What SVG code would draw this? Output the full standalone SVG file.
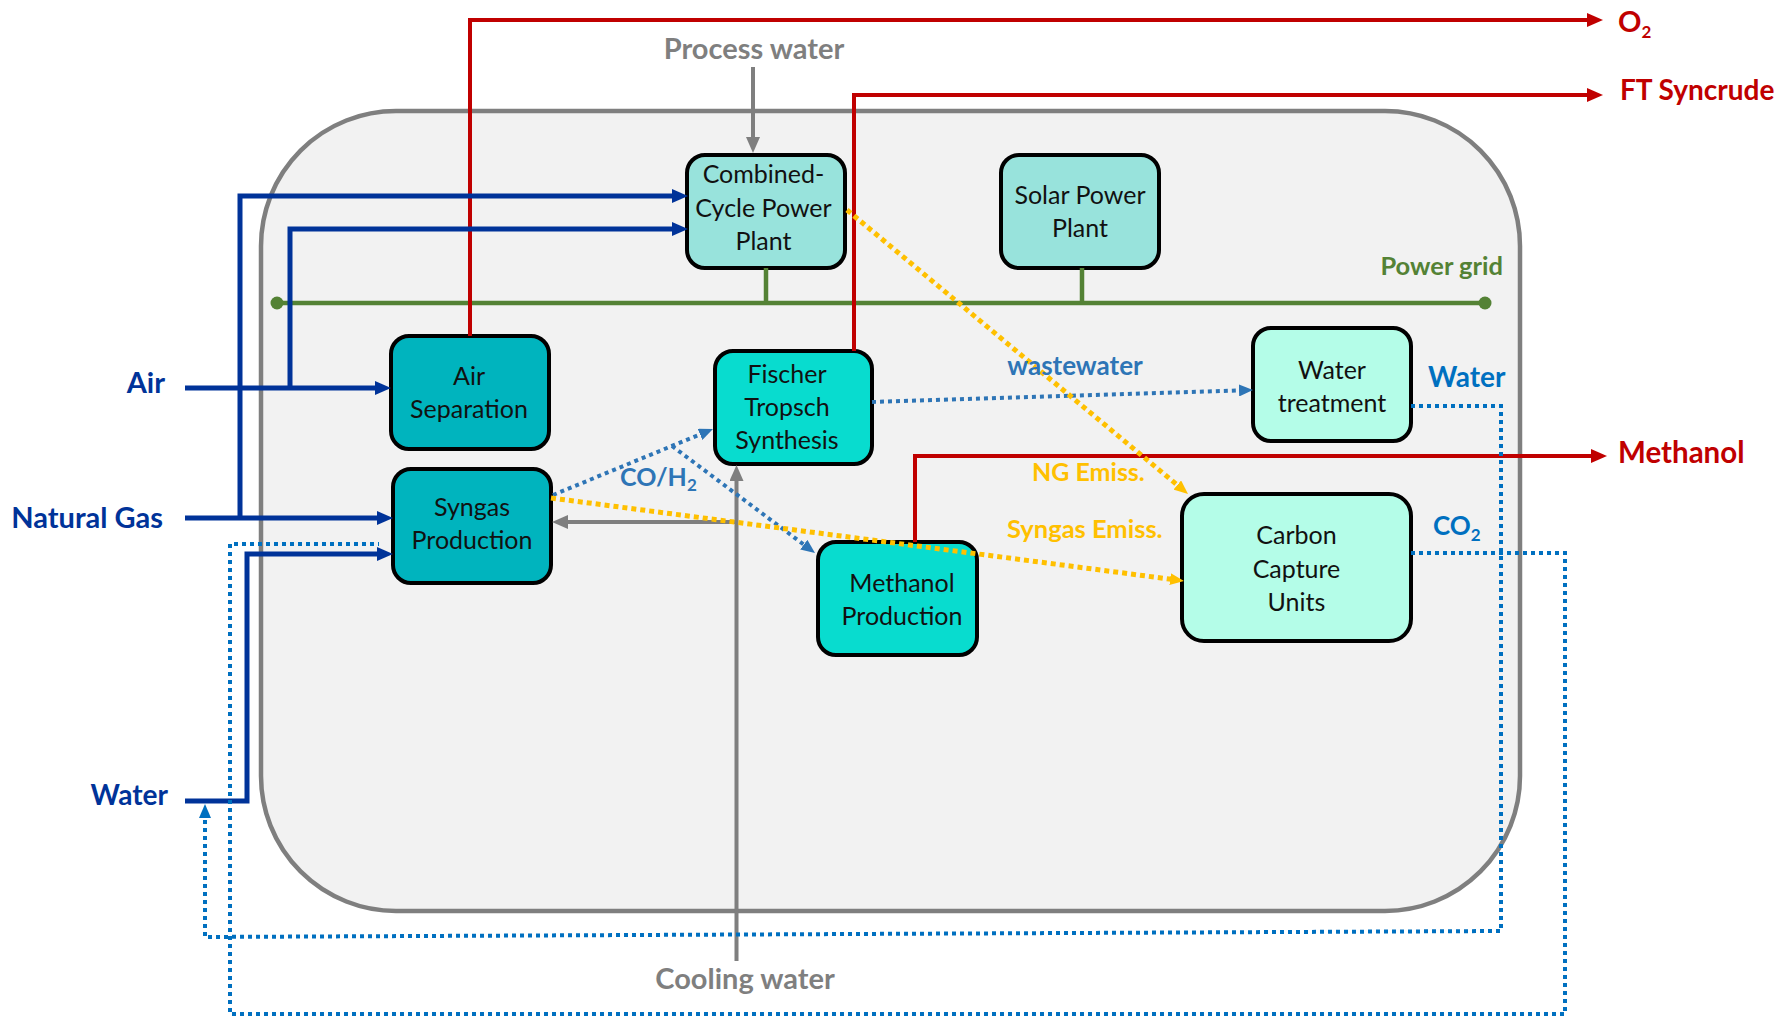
<svg xmlns="http://www.w3.org/2000/svg" width="1792" height="1017" viewBox="0 0 1792 1017">
  <style>
    .node rect { stroke: #000; stroke-width: 4; }
    .node text { font-family: Lato, "Open Sans", sans-serif; font-size: 25px; fill: #111; text-anchor: middle; }
    .lbl { font-family: Lato, "Open Sans", sans-serif; font-weight: bold; font-size: 29px; }
    .sub { font-size: 17px; }
    .c-air { fill: #00b4be; }
    .c-reac { fill: #08dccf; }
    .c-pow { fill: #98e3dc; }
    .c-mint { fill: #b4fde8; }
    .red { stroke: #c00000; stroke-width: 4; fill: none; }
    .gray { stroke: #7f7f7f; stroke-width: 4; fill: none; }
    .green { stroke: #548235; stroke-width: 4.5; fill: none; }
    .navy { stroke: #003399; stroke-width: 5; fill: none; }
    .dotA { stroke: #2e75b6; stroke-width: 4; stroke-dasharray: 4 4; fill: none; }
    .dotB { stroke: #0070c0; stroke-width: 4; stroke-dasharray: 4 4; fill: none; }
    .dotY { stroke: #ffc000; stroke-width: 5; stroke-dasharray: 5 4; fill: none; }
  </style>
  <defs>
    <marker id="arRed" markerUnits="userSpaceOnUse" markerWidth="16" markerHeight="14" refX="2" refY="7" orient="auto"><path d="M0,0 L16,7 L0,14 z" fill="#c00000"/></marker>
    <marker id="arGray" markerUnits="userSpaceOnUse" markerWidth="16" markerHeight="14" refX="2" refY="7" orient="auto"><path d="M0,0 L16,7 L0,14 z" fill="#7f7f7f"/></marker>
    <marker id="arNavy" markerUnits="userSpaceOnUse" markerWidth="16" markerHeight="14" refX="2" refY="7" orient="auto"><path d="M0,0 L16,7 L0,14 z" fill="#003399"/></marker>
    <marker id="arA" markerUnits="userSpaceOnUse" markerWidth="14" markerHeight="12" refX="2" refY="6" orient="auto"><path d="M0,0 L14,6 L0,12 z" fill="#2e75b6"/></marker>
    <marker id="arB" markerUnits="userSpaceOnUse" markerWidth="14" markerHeight="12" refX="2" refY="6" orient="auto"><path d="M0,0 L14,6 L0,12 z" fill="#0070c0"/></marker>
    <marker id="arY" markerUnits="userSpaceOnUse" markerWidth="14" markerHeight="12" refX="2" refY="6" orient="auto"><path d="M0,0 L14,6 L0,12 z" fill="#ffc000"/></marker>
  </defs>

  <!-- plant boundary -->
  <rect id="plant-boundary" x="261" y="111" width="1259" height="800" rx="135" ry="135" fill="#f2f2f2" stroke="#7f7f7f" stroke-width="4.5"/>

  <!-- process units -->
  <g id="combined-cycle" class="node">
    <rect class="c-pow" x="687" y="155" width="158" height="113" rx="18"/>
    <text x="763.5" y="183">Combined-</text>
    <text x="763.5" y="216.5">Cycle Power</text>
    <text x="763.5" y="250">Plant</text>
  </g>
  <g id="solar-power" class="node">
    <rect class="c-pow" x="1001" y="155" width="158" height="113" rx="18"/>
    <text x="1080" y="204">Solar Power</text>
    <text x="1080" y="237">Plant</text>
  </g>
  <g id="air-separation" class="node">
    <rect class="c-air" x="391" y="336" width="158" height="113" rx="18"/>
    <text x="469" y="385">Air</text>
    <text x="469" y="418">Separation</text>
  </g>
  <g id="syngas-production" class="node">
    <rect class="c-air" x="393" y="469" width="158" height="114" rx="18"/>
    <text x="472" y="516">Syngas</text>
    <text x="472" y="549">Production</text>
  </g>
  <g id="fischer-tropsch" class="node">
    <rect class="c-reac" x="715" y="351" width="157" height="113" rx="18"/>
    <text x="787" y="383">Fischer</text>
    <text x="787" y="416">Tropsch</text>
    <text x="787" y="449">Synthesis</text>
  </g>
  <g id="methanol-production" class="node">
    <rect class="c-reac" x="818" y="542" width="159" height="113" rx="18"/>
    <text x="902" y="592">Methanol</text>
    <text x="902" y="625">Production</text>
  </g>
  <g id="water-treatment" class="node">
    <rect class="c-mint" x="1253" y="328" width="158" height="113" rx="18"/>
    <text x="1332" y="379">Water</text>
    <text x="1332" y="412">treatment</text>
  </g>
  <g id="carbon-capture" class="node">
    <rect class="c-mint" x="1182" y="494" width="229" height="147" rx="22"/>
    <text x="1296.5" y="544">Carbon</text>
    <text x="1296.5" y="577.5">Capture</text>
    <text x="1296.5" y="611">Units</text>
  </g>

  <!-- flows -->
  <g id="connectors">
    <!-- power grid bus -->
    <path class="green" d="M277,303 H1485 M766,268 V303 M1082,268 V303"/>
    <circle cx="277" cy="303" r="6.5" fill="#548235"/>
    <circle cx="1485" cy="303" r="6.5" fill="#548235"/>

    <!-- products -->
    <path class="red" d="M470,336 V20 H1589" marker-end="url(#arRed)"/>
    <path class="red" d="M854,351 V95 H1589" marker-end="url(#arRed)"/>
    <path class="red" d="M915,542 V456 H1593" marker-end="url(#arRed)"/>

    <!-- utility water -->
    <path class="gray" d="M753,67 V139" marker-end="url(#arGray)"/>
    <path class="gray" d="M736.5,961 V479" marker-end="url(#arGray)"/>
    <path class="gray" d="M736.5,522 H566" marker-end="url(#arGray)"/>

    <!-- feeds -->
    <path class="navy" d="M185,388 H377" marker-end="url(#arNavy)"/>
    <path class="navy" d="M290,388 V229 H674" marker-end="url(#arNavy)"/>
    <path class="navy" d="M185,518 H379" marker-end="url(#arNavy)"/>
    <path class="navy" d="M240,518 V196 H674" marker-end="url(#arNavy)"/>
    <path class="navy" d="M185,801 H247 V554 H379" marker-end="url(#arNavy)"/>

    <!-- syngas and wastewater -->
    <path class="dotA" d="M553,495 L701.9,433.6" marker-end="url(#arA)"/>
    <path class="dotA" d="M672,446 L805.4,545.8" marker-end="url(#arA)"/>
    <path class="dotA" d="M872,402 L1241,390.4" marker-end="url(#arA)"/>

    <!-- recycle loops -->
    <path class="dotB" d="M1411,406 H1501 V931 L205,937 V816" marker-end="url(#arB)"/>
    <path class="dotB" d="M1411,553 H1565 V1014 H230 V544 H379"/>

    <!-- emissions to capture -->
    <path class="dotY" d="M847,210 L1178.8,486.3" marker-end="url(#arY)"/>
    <path class="dotY" d="M551,498 L1172.1,579.4" marker-end="url(#arY)"/>
  </g>

  <!-- stream labels -->
  <g id="labels">
    <text class="lbl" x="1618" y="32" fill="#c00000">O<tspan class="sub" dy="6">2</tspan></text>
    <text class="lbl" x="1620" y="100" fill="#c00000" style="font-size:28px">FT Syncrude</text>
    <text class="lbl" x="1618" y="463" fill="#c00000" style="font-size:29.5px">Methanol</text>
    <text class="lbl" x="754" y="59" fill="#7f7f7f" text-anchor="middle">Process water</text>
    <text class="lbl" x="745" y="989" fill="#7f7f7f" text-anchor="middle">Cooling water</text>
    <text class="lbl" x="165" y="393" fill="#003399" text-anchor="end">Air</text>
    <text class="lbl" x="163" y="528" fill="#003399" text-anchor="end">Natural Gas</text>
    <text class="lbl" x="168" y="805" fill="#003399" text-anchor="end" style="font-size:28px">Water</text>
    <text class="lbl" x="1503" y="275" fill="#548235" text-anchor="end" style="font-size:25.5px">Power grid</text>
    <text class="lbl" x="1075" y="375" fill="#2e75b6" text-anchor="middle" style="font-size:26px">wastewater</text>
    <text class="lbl" x="1428" y="387" fill="#0070c0" style="font-size:28px">Water</text>
    <text class="lbl" x="620" y="486" fill="#2e75b6" style="font-size:25px">CO/H<tspan class="sub" dy="5">2</tspan></text>
    <text class="lbl" x="1032" y="481" fill="#ffc000" style="font-size:25px">NG Emiss.</text>
    <text class="lbl" x="1007" y="538" fill="#ffc000" style="font-size:25.5px">Syngas Emiss.</text>
    <text class="lbl" x="1433" y="535" fill="#0070c0" style="font-size:26px">CO<tspan class="sub" dy="6">2</tspan></text>
  </g>
</svg>
